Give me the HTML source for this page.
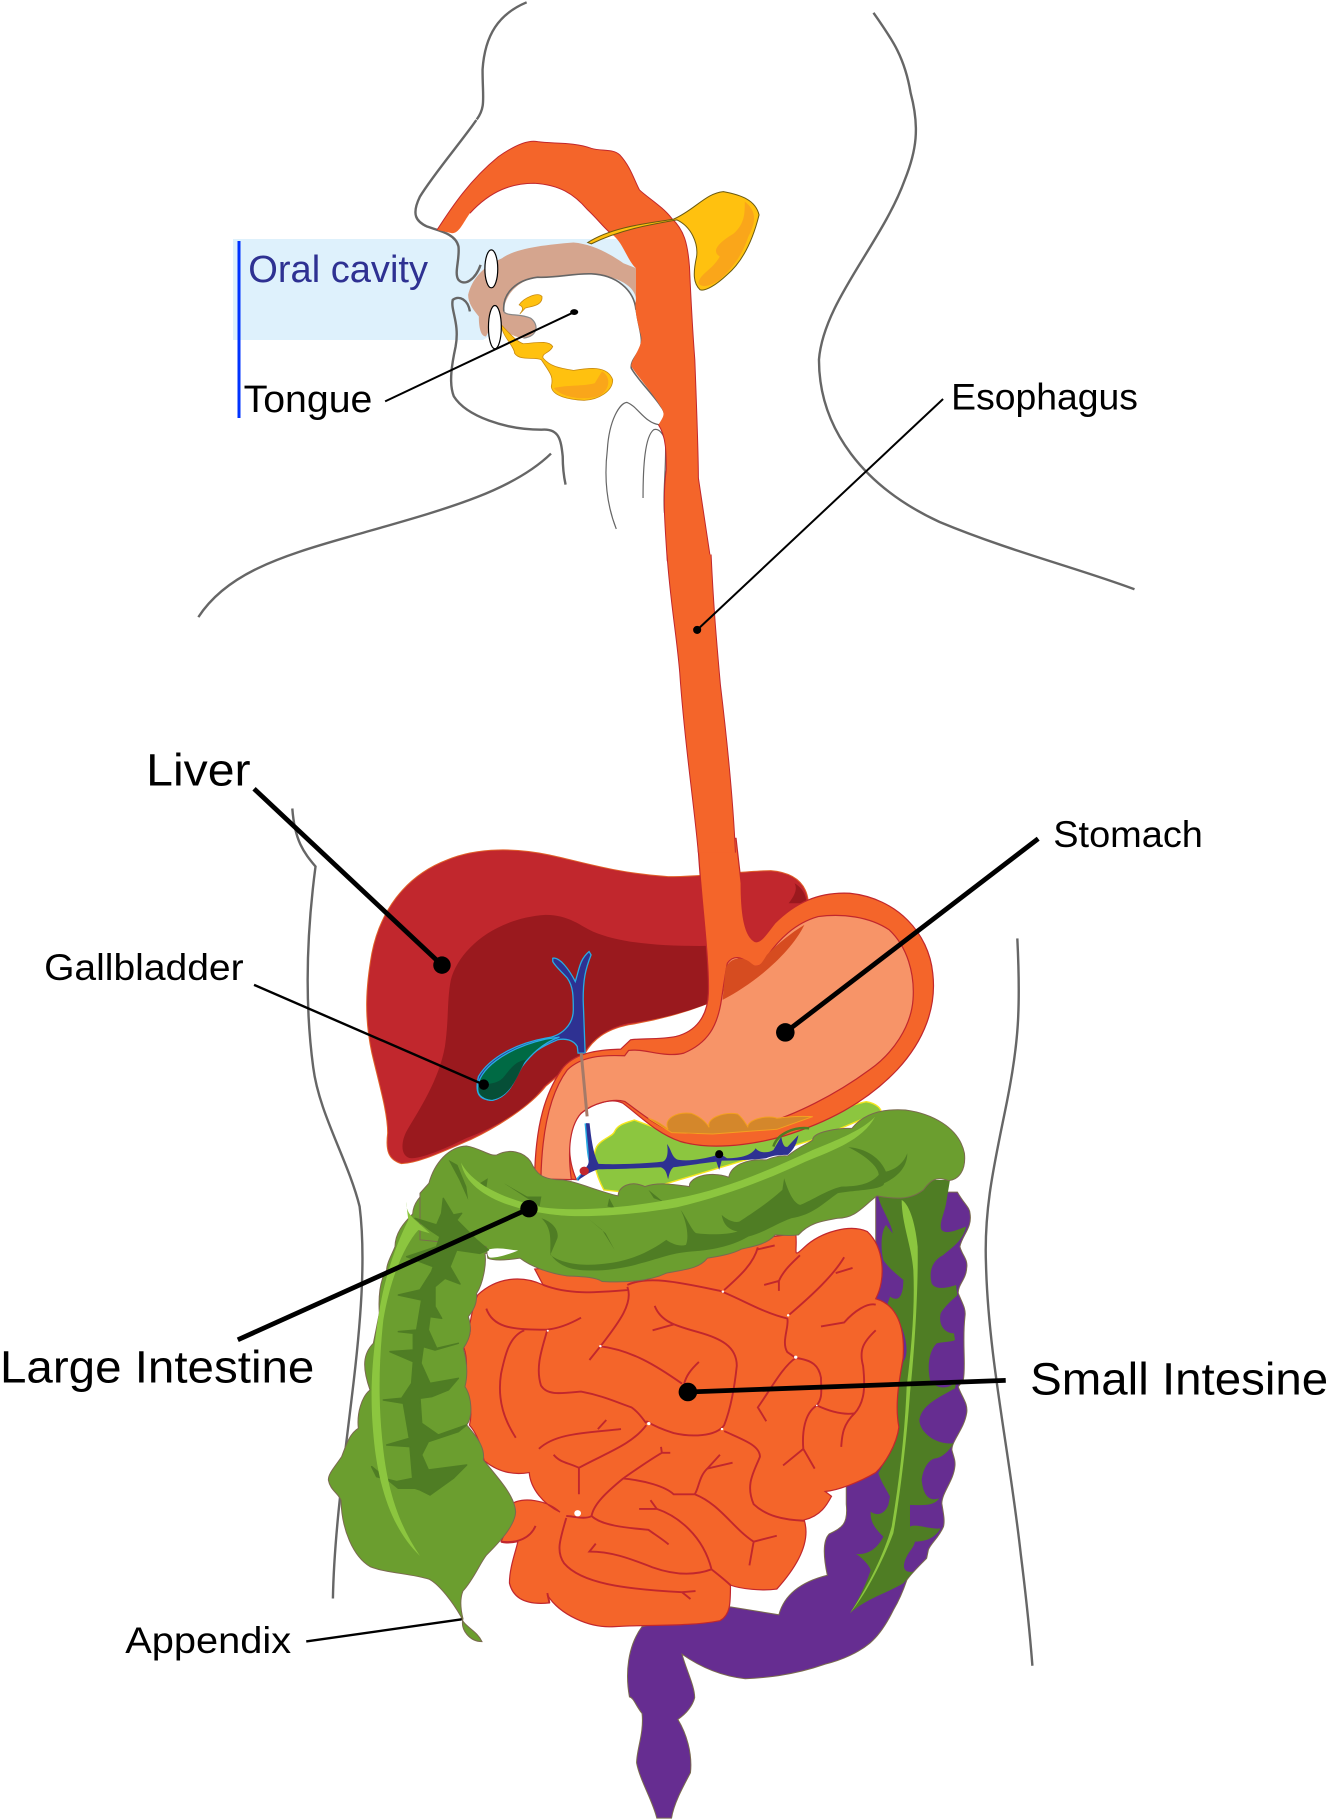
<!DOCTYPE html>
<html><head><meta charset="utf-8"><style>
html,body{margin:0;padding:0;background:#fff}
svg{display:block}
svg *{vector-effect:non-scaling-stroke}
text{font-family:"Liberation Sans",sans-serif;fill:#000}
.b{fill:none;stroke:#666;stroke-width:2.4;stroke-linecap:butt}
.f{fill:none;stroke:#c1272d;stroke-width:1.9}
</style></head><body>
<svg width="1328" height="1819" viewBox="0 0 1328 1819" xmlns="http://www.w3.org/2000/svg">
<rect width="1328" height="1819" fill="#fff"/>
<!-- body outlines -->
<g transform="scale(1.16)">
<path class="b" d="M454,2C430,12 418,30 416,60C416,85 419,92 411,103"/>
<path class="b" d="M753,11C770,35 780,50 785,80C793,110 790,130 780,155C760,210 710,260 706,310C706,370 745,420 810,450C870,475 930,490 978,508"/>
<path class="b" d="M475,391C440,425 380,440 300,463C240,480 195,495 171,532"/>
<path class="b" d="M252,697C254,725 262,735 272,747C265,800 262,860 270,920C275,960 300,1000 310,1040C315,1080 312,1130 305,1190C298,1250 288,1320 287,1378"/>
<path class="b" d="M877,809C880,870 878,900 868,950C858,1000 848,1040 850,1090C852,1170 870,1250 880,1340C885,1380 888,1410 890,1436"/>
</g>
<!-- oral rect -->
<rect x="233" y="239" width="403" height="101" fill="#def1fc"/>
<rect x="237.500" y="241" width="3" height="177" fill="#0033ff"/>
<!-- head detail -->
<g transform="translate(220,120) scale(.357,.333)">
<path d="M795,570C790,520 830,480 890,472C940,475 990,460 1040,462C1110,465 1160,510 1165,570L1170,665L730,665L790,625Z" fill="#fff"/>
<path class="b" d="M718,0C680,60 600,160 560,230C535,285 550,305 580,320C610,332 660,340 668,380C672,420 655,460 668,480C685,500 715,480 730,435"/>
<path class="b" d="M700,575C695,540 670,525 652,540C645,570 672,610 660,680C650,730 640,790 655,830C690,890 800,930 900,930C950,925 955,960 960,1010C960,1050 965,1080 968,1095"/>
<path d="M1110,1228C1085,1160 1075,1080 1085,990C1090,900 1120,850 1140,848C1170,860 1190,910 1230,915" fill="none" stroke="#666" stroke-width="1.2"/>
<path d="M1185,1135C1185,1040 1190,950 1215,930C1230,925 1245,945 1248,970C1250,1050 1240,1120 1245,1180" fill="none" stroke="#666" stroke-width="1.2"/>
<path d="M695,525C705,480 735,440 790,415C830,385 910,375 990,368C1040,372 1090,400 1130,430L1165,445V535C1160,500 1120,470 1040,462C990,462 940,475 890,472C840,480 800,520 795,570C800,590 840,580 870,595C895,615 890,650 850,655C810,650 790,625 770,600L745,650C725,650 725,600 725,590C710,570 695,550 695,525Z" fill="#d5a58e"/>
<path d="M795,575C790,520 830,480 890,472C940,475 990,460 1040,462C1110,465 1160,510 1165,570" fill="none" stroke="#666" stroke-width="1.6"/>
<path d="M795,575C800,590 840,580 870,595C895,615 890,650 850,655" fill="none" stroke="#888" stroke-width="1.2"/>
<path d="M1165,560C1170,620 1190,660 1175,690C1165,710 1150,725 1152,745C1170,780 1210,820 1235,860C1250,880 1250,905 1230,915" fill="none" stroke="#666" stroke-width="1.6"/>
<path d="M608,330C650,260 700,180 780,110C820,80 860,58 890,65C930,72 990,65 1040,85C1070,95 1100,85 1120,105C1150,140 1160,180 1175,210C1200,235 1240,260 1265,295C1300,330 1310,370 1315,440C1320,560 1325,650 1330,720C1335,860 1340,1000 1340,1075L1375,1325H1253C1245,1200 1240,1130 1250,1050C1250,1000 1250,950 1228,915C1250,880 1245,880 1225,845C1200,805 1170,770 1152,740C1150,720 1185,680 1180,650C1170,610 1160,570 1165,540V445C1140,420 1130,370 1100,345C1080,330 1060,300 1030,270C990,220 950,195 880,190C820,190 760,210 700,280C680,310 670,340 650,340Z" fill="#f4652a"/>
<path d="M608,330C650,260 700,180 780,110C820,80 860,58 890,65C930,72 990,65 1040,85C1070,95 1100,85 1120,105C1150,140 1160,180 1175,210C1200,235 1240,260 1265,295C1300,330 1310,370 1315,440C1320,560 1325,650 1330,720C1335,860 1340,1000 1340,1075L1375,1325M1253,1325C1245,1200 1240,1130 1250,1050C1250,1000 1250,950 1228,915M700,280C760,210 820,190 880,190C950,195 990,220 1030,270C1060,300 1080,330 1100,345" fill="none" stroke="#c1272d" stroke-width="1"/>
<path d="M1030,368C1100,320 1200,310 1270,298C1330,270 1360,220 1410,215C1460,225 1500,240 1510,285C1495,350 1470,420 1420,465C1390,495 1360,515 1345,510C1325,490 1325,460 1335,410C1340,370 1320,320 1280,300C1200,315 1120,330 1040,372Z" fill="#ffc10f" stroke="#6b5a10" stroke-width="1"/>
<path d="M1470,245C1500,270 1505,300 1480,350C1465,400 1440,440 1400,480C1370,500 1350,505 1340,490C1345,460 1380,450 1400,410C1370,390 1410,360 1440,340C1470,310 1470,280 1470,245Z" fill="#faa61a"/>
<path d="M840,582C850,570 850,560 838,555C850,535 890,515 902,530C905,560 865,560 855,565Z" fill="#ffc10f" stroke="#c98a10" stroke-width=".8"/>
<path d="M788,615C810,640 830,665 850,672C880,670 920,660 932,680C925,700 900,700 905,715C925,740 950,745 990,752C1030,745 1085,735 1100,780C1100,815 1060,840 1020,842C980,840 930,830 928,800C935,770 925,760 900,720C880,710 840,725 825,700C825,680 790,650 788,615Z" fill="#ffc10f" stroke="#c98a10" stroke-width=".8"/>
<path d="M1070,755C1095,770 1095,810 1060,830C1020,842 960,835 935,805C970,795 1020,800 1050,790Z" fill="#faa61a"/>
<ellipse cx="760" cy="447" rx="18" ry="57" fill="#fff" stroke="#000" stroke-width="1.2"/>
<ellipse cx="770" cy="622" rx="18" ry="65" fill="#fff" stroke="#000" stroke-width="1.2"/>
</g>
<!-- liver and stomach -->
<g transform="translate(360,840) scale(.395,.333)">
<path d="M105,972C70,960 65,930 70,880C70,820 50,740 30,640C10,530 15,440 30,340C50,220 110,110 220,60C300,20 400,25 480,45C560,65 650,100 780,110C880,110 980,92 1040,92C1100,98 1130,130 1135,185L1040,330L920,470C850,510 760,540 680,555C620,570 590,600 570,640L470,740C430,800 350,860 280,900C210,935 150,970 105,972Z" fill="#c1272d" stroke="#e0602a" stroke-width="1"/>
<path d="M125,955C100,945 105,900 120,870C150,810 200,720 215,620C225,540 220,480 230,420C250,330 340,235 470,225C530,225 560,260 590,275C660,310 760,320 890,318L1100,300L915,475C850,510 760,540 680,550C620,565 590,600 565,640L465,740C430,800 350,860 270,895C210,930 150,960 125,955Z" fill="#9a191e"/>
<path d="M1100,130C1110,150 1095,175 1085,190L1130,190C1130,160 1115,140 1100,130Z" fill="#9a191e"/>
<path d="M1000,305C1030,300 1060,260 1100,240L1040,330Z" fill="#9a191e"/>
<path d="M488,355C505,350 530,390 545,425C555,390 555,360 580,335L585,345C570,390 565,420 565,480L570,640L552,640L550,620C540,600 520,595 500,600C460,620 430,640 410,680C390,720 380,770 335,782C300,780 290,760 300,710C330,650 400,610 470,595C510,590 540,555 540,510C540,470 540,440 525,415C510,395 495,380 488,365Z" fill="#2e3192" stroke="#29abe2" stroke-width="1.3"/>
<path d="M298,750C295,690 370,625 470,598L505,592C460,610 430,650 410,680C390,720 380,770 335,782C315,780 298,770 298,750Z" fill="#006a44" stroke="#29abe2" stroke-width="1.3"/>
<path d="M300,740C320,730 350,735 365,710C385,680 395,665 420,660C400,700 385,770 335,780C315,780 298,765 300,740Z" fill="#064f37"/>
</g>
<!-- pancreas (under stomach) -->
<g transform="translate(420,1090) scale(.357,.333)">
<path d="M515,300C490,250 480,200 495,170C510,145 540,140 545,125C555,100 590,95 600,90L700,130L1000,120C1080,100 1180,50 1250,35C1280,40 1295,60 1290,65L1100,150L600,310Z" fill="#8cc63f" stroke="#f5e61e" stroke-width="1.4"/>
</g>
<!-- stomach -->
<g transform="translate(360,840) scale(.395,.333)">
<path d="M855,-5C860,150 885,350 882,460C880,530 850,575 800,590C760,600 710,595 685,600L660,628C600,630 540,640 510,690C470,760 445,850 442,1010L548,1020C525,960 525,880 545,840C570,800 630,770 665,790C710,830 750,880 810,905C880,930 980,920 1070,890C1180,850 1280,790 1360,690C1430,600 1460,500 1450,400C1440,280 1360,175 1240,160C1160,155 1100,190 1050,250C1030,280 1015,310 1000,305C975,290 965,230 965,130L952,-5Z" fill="#f4652a" stroke="#c1272d" stroke-width="1.2"/>
<path d="M458,1018C460,900 475,770 525,690C560,650 610,645 670,648L680,632C720,625 770,655 820,640C880,610 905,560 915,480C920,440 925,400 930,370C945,345 965,350 985,370C1000,385 1015,385 1030,350C1060,300 1100,250 1160,230C1220,220 1290,230 1340,270C1385,320 1405,400 1400,480C1395,560 1350,640 1290,690C1210,760 1100,830 1000,860C930,880 830,890 780,870C740,850 700,810 670,785C640,775 590,790 560,820C530,860 525,930 535,1020Z" fill="#f79468" stroke="#c1272d" stroke-width="1.2"/>
<path d="M925,390C930,360 960,345 985,365C1005,385 1010,385 1030,345C1060,310 1090,280 1125,255C1090,340 1000,430 918,480Z" fill="#d64c20"/>
<path d="M560,640L575,830" fill="none" stroke="#a57a68" stroke-width="3"/>
</g>
<!-- esophagus mid -->
<g transform="scale(1.16)">
<path d="M575,478C578,520 583,545 586,580C590,640 598,690 602,735H634C632,690 627,640 621,590C617,545 615,520 613,478Z" fill="#f4652a"/>
<path d="M575,478C578,520 583,545 586,580C590,640 598,690 602,735M634,735C632,690 627,640 621,590C617,545 615,520 613,478" fill="none" stroke="#c1272d" stroke-width="1"/>
</g>
<g transform="translate(420,1090) scale(.357,.333)">
<path d="M640,85C660,90 680,105 695,118C680,85 720,65 760,70C785,80 800,95 810,112C800,85 850,65 890,72C905,85 912,100 918,110C920,85 980,75 1000,85C1030,80 1070,78 1100,80L1000,118L820,132L705,128Z" fill="#d4872b" stroke="#f5a020" stroke-width="1"/>
<path d="M465,100C470,150 470,200 480,225L440,270" fill="none" stroke="#29abe2" stroke-width="3"/>
<path d="M440,272L470,225C478,210 468,150 465,100L475,100C480,150 485,190 500,222C560,225 640,220 680,215C695,210 695,180 692,162C705,180 705,205 725,210C760,215 800,205 825,198L838,190L860,205C900,205 930,195 940,175C950,190 975,190 990,180L1012,140C1015,160 1020,175 1030,170L1060,135C1055,165 1045,180 1030,195C1000,195 985,198 970,205C930,210 880,212 845,212L838,240L830,215C790,220 740,228 710,232C700,240 698,255 695,268C690,250 690,240 675,232C620,235 550,238 500,238C475,245 460,260 440,272Z" fill="#2e3192"/>
<circle cx="460" cy="243" r="13" fill="#c1272d"/>
</g>
<!-- purple colon -->
<g transform="translate(320,1200) scale(.421,.395)">
<path d="M1320,-20H1514C1530,10 1544,20 1544,34C1550,70 1525,90 1520,118C1525,140 1540,150 1536,173C1535,200 1515,215 1516,236C1525,260 1535,275 1532,295C1525,360 1535,420 1528,456L1516,473C1525,500 1540,515 1536,540C1530,580 1500,610 1501,633C1505,650 1510,660 1508,675C1505,710 1478,740 1477,768C1480,790 1485,810 1481,827C1470,855 1450,870 1445,886L1441,907C1420,930 1405,945 1394,962C1385,990 1375,1015 1362,1038C1345,1075 1325,1105 1306,1122C1280,1145 1240,1165 1200,1175C1120,1205 1050,1210 1010,1212C950,1205 900,1180 860,1150C870,1190 890,1230 890,1260C885,1280 870,1300 850,1315C870,1350 885,1400 880,1450C860,1490 840,1530 835,1565H800C790,1520 760,1470 752,1425C752,1390 770,1350 765,1300C750,1280 745,1260 735,1258C725,1200 730,1130 765,1080L975,1030L1090,1050C1100,1010 1130,970 1205,950C1195,900 1195,860 1210,845C1240,830 1255,820 1250,770V720L1320,690Z" fill="#662d91" stroke="#7a6a4f" stroke-width="1"/>
</g>
<g transform="translate(850,1180) scale(.3333)">
<path d="M85,50C90,80 125,130 128,160L108,135C95,150 90,200 100,240C120,270 150,290 160,300C160,340 150,370 120,350L110,380L150,430C165,460 180,520 160,545L140,650L130,800L85,880C95,910 110,930 120,950L115,975C100,1010 75,1005 62,995C60,1030 80,1050 100,1070C80,1110 50,1125 18,1122C40,1135 60,1160 62,1170C50,1210 20,1270 0,1300C50,1255 100,1245 160,1210L190,1175C160,1180 155,1160 170,1130C180,1110 190,1105 195,1085C240,1085 260,1065 272,1045C240,1050 200,1030 180,1040L180,975C220,975 250,980 268,955C240,965 220,950 215,900C220,860 240,835 260,835C280,830 300,810 310,790C260,795 210,760 208,720C215,680 250,660 315,625L320,600C300,630 260,630 240,600C230,550 240,510 260,490C285,485 310,485 315,480L312,460C280,460 265,430 272,400C290,370 320,350 322,345L318,315C290,325 255,330 245,310C235,270 250,240 280,225C310,200 340,180 348,140C320,150 290,165 275,150C265,130 285,100 290,60L300,0H80Z" fill="#4f7d24"/>
</g>
<!-- small intestine -->
<g transform="translate(320,1200) scale(.421,.395)">
<path d="M375,240C420,195 480,190 530,215L510,175L1130,85C1135,130 1120,150 1150,120C1190,80 1260,60 1300,80C1340,120 1345,200 1320,250C1370,265 1390,320 1385,400C1375,460 1365,520 1375,575C1370,620 1340,670 1320,690C1280,715 1230,735 1200,738L1215,750C1205,770 1190,800 1150,810C1165,860 1140,920 1085,985C1050,990 1000,985 975,975C975,1020 975,1050 950,1065C880,1080 780,1075 700,1080C640,1085 570,1050 540,1000L545,1020C500,1025 460,1015 450,970C450,930 465,890 470,865C450,870 430,868 430,865C450,820 455,790 455,770C480,750 540,760 570,790C530,770 500,730 497,690C470,695 430,695 390,660C385,640 380,600 355,570C365,530 350,490 340,465C355,420 345,380 340,370C365,340 355,310 355,320C360,290 365,260 375,240Z" fill="#f4652a" stroke="#c1272d" stroke-width="1.2"/>
<path class="f" d="M395,275C410,320 450,330 540,328C570,325 600,310 620,298M540,328C530,370 510,420 525,470C540,495 570,490 620,485C670,495 700,510 740,525C760,540 770,560 775,565M485,330C450,345 440,390 430,440C420,510 440,560 465,602M730,220C745,260 710,310 670,365L640,405M730,228C650,235 590,240 530,215M665,370C740,380 800,420 860,465M900,410C880,430 870,445 865,465M795,268C810,310 850,320 900,335C950,350 990,370 990,420C985,470 975,530 960,570C940,600 880,600 840,590C810,580 790,570 775,560M790,330L840,315M730,215C780,190 860,210 950,230C1000,250 1050,285 1110,300C1115,320 1095,360 1110,385L1130,400C1170,405 1185,420 1190,450C1190,480 1195,500 1180,520M1130,400C1100,420 1070,480 1040,525L1060,560M960,228C1000,190 1030,160 1040,120M1040,125L1080,115M1115,290C1170,240 1220,190 1245,145M1090,205V230M1055,215L1090,205C1100,180 1120,160 1140,140M1225,185L1265,172M1190,320L1245,310C1270,280 1300,260 1320,265M1320,330C1290,360 1280,380 1290,420C1295,470 1295,510 1270,540C1240,570 1240,600 1238,625M1180,520C1210,535 1240,545 1270,540M1180,520C1150,540 1145,590 1148,630L1175,680M1148,630L1100,672M960,585C1000,605 1045,620 1045,650C1030,690 1010,720 1030,770C1060,800 1100,810 1150,812M520,630C560,590 630,590 715,580M660,580L680,557M555,645C570,665 590,665 615,678V745M615,678C680,640 740,620 775,570M810,625L812,640H832M812,640C780,660 740,690 720,705M980,665L920,680C900,700 900,730 890,745M920,680L950,645M720,705C770,710 820,725 840,745H890C950,770 980,830 1030,865L1085,850M1030,865L1020,925M720,705C680,740 650,770 645,800C670,825 730,830 780,835C800,850 815,860 828,872M758,782H800L785,760M800,782C850,800 910,850 930,935C880,955 830,945 790,930C730,905 690,890 640,890L655,870M585,805C570,860 560,890 580,920C620,970 720,985 860,993L892,990M860,993L880,1010M930,935C960,960 975,975 975,975M585,800C600,800 630,810 645,800M430,865C470,870 500,855 512,825M540,995L545,1020"/>
<g fill="#fff"><circle cx="541" cy="331" r="2.500"/><circle cx="666" cy="370" r="3"/><circle cx="781" cy="566" r="4"/><circle cx="955" cy="580" r="3"/><circle cx="1130" cy="398" r="4"/><circle cx="1180" cy="520" r="2"/><circle cx="1112" cy="292" r="3"/><circle cx="612" cy="793" r="8"/><circle cx="957" cy="232" r="3"/></g>
</g>
<g transform="translate(850,1180) scale(.3333)">
<path d="M155,60C175,70 195,120 203,200C205,320 195,500 180,640C170,780 150,950 130,1060C100,1140 50,1240 0,1300C50,1225 100,1130 125,1040C150,890 165,750 170,620C185,500 195,380 190,270C185,200 155,130 155,60Z" fill="#8cc63f"/>
</g>
<!-- ascending colon -->
<g transform="translate(320,1140) scale(.3333)">
<path d="M378,50C340,90 325,120 328,150C300,165 280,190 278,222C250,250 225,280 225,320C215,345 200,370 200,390C180,420 175,470 178,520L160,610C130,640 125,680 150,750C125,770 110,820 115,865C90,880 80,910 65,950C45,980 25,1000 25,1020C30,1050 55,1060 63,1081C65,1170 100,1250 150,1280C200,1300 270,1300 328,1318C360,1335 400,1390 423,1430C430,1460 470,1470 486,1505C450,1505 420,1470 429,1436C420,1400 420,1375 429,1353C460,1320 480,1270 499,1246C530,1215 585,1160 587,1116C585,1070 540,1020 490,960C495,930 480,900 440,855C460,830 455,770 435,740C445,700 440,660 430,625C455,590 455,560 445,530C470,500 470,480 470,460C490,430 500,370 495,340L560,340L560,50Z" fill="#6b9e2f" stroke="#7a6a4f" stroke-width="1"/>
</g>
<!-- transverse colon -->
<g transform="translate(420,1090) scale(.357,.333)">
<path d="M25,280C40,220 80,170 130,168C170,175 195,200 215,195C250,175 290,185 310,215C325,250 340,270 400,270C440,275 500,305 555,318C555,290 590,270 630,290C670,275 720,285 755,290C750,265 810,240 865,262C870,230 910,205 970,210C980,205 1010,195 1030,198C1060,170 1090,160 1100,150C1100,125 1170,115 1210,115C1240,75 1290,55 1360,60C1430,70 1510,110 1525,190C1530,240 1510,270 1480,272C1440,255 1425,280 1410,300C1370,335 1320,325 1280,318C1240,350 1220,385 1170,385C1120,395 1090,400 1060,435C1030,440 1010,435 995,435C970,465 930,470 900,478C870,495 830,500 805,505C780,540 730,540 690,550C650,570 590,580 510,575C490,560 440,560 410,558C360,550 310,530 280,505C250,510 210,515 190,505L185,470L0,450V310Z" fill="#6b9e2f" stroke="#7a6a4f" stroke-width="1"/>
<path d="M190,480C215,470 250,480 275,482C245,495 215,505 195,503C188,497 188,488 190,480Z" fill="#fff"/>
<path d="M990,170C1000,130 1050,110 1090,115" fill="none" stroke="#4f7d24" stroke-width="2.500"/>
<path d="M340,385C370,395 390,420 385,445L365,495C400,525 470,530 530,520C600,510 650,480 690,450C710,465 730,470 745,465C755,440 745,390 730,360C745,380 765,430 775,430C810,435 860,435 890,425C865,420 850,405 845,375C860,390 880,400 895,395C930,370 980,335 1015,300L1020,265C1030,300 1045,340 1065,345C1100,330 1140,300 1180,290C1220,290 1260,285 1285,255C1285,235 1255,200 1200,172C1250,175 1290,205 1305,245C1330,240 1355,220 1365,190C1365,230 1340,260 1300,280C1300,300 1220,300 1170,310C1130,340 1100,375 1040,385C1000,400 960,430 920,440C880,465 830,480 760,485C700,490 660,510 620,520C560,540 470,550 420,535C390,525 370,505 365,490C365,450 370,415 340,385Z" fill="#4f7d24"/>
<path d="M80,210L105,225L130,290L135,330L110,270ZM190,265L160,285L185,300ZM235,280L300,320L340,320L335,350ZM470,385L520,430L545,480L510,420ZM530,325L545,355L525,350ZM640,300L680,335L655,325Z" fill="#4f7d24"/>
<path d="M115,218C150,290 250,330 340,352C450,368 600,350 720,325C850,300 980,240 1100,180C1170,150 1240,120 1275,80C1240,150 1160,180 1080,215C970,270 850,320 720,352C600,375 460,385 380,375C250,360 130,310 115,218Z" fill="#8cc63f"/>
</g>
<!-- ascending spine and stripe -->
<g transform="translate(320,1140) scale(.3333)">
<path d="M370,175L400,225L425,220L410,240L470,300L505,330L480,340L410,330L390,380L420,432L375,415L345,440L345,500L365,535L330,530L325,570L350,625L415,610L345,630L310,620L303,670L330,730L415,715L385,750L335,770L300,775L305,850L355,885L440,855L415,875L325,905L305,945L325,990L440,975L400,1015L330,1065L300,1050L285,1045L235,1045L155,980L170,1010L230,1025L278,1015L270,920L200,915L268,895L250,790L190,780L245,775L275,730L280,665L210,635L280,630L280,580L235,575L290,570L305,480L235,465L300,450L335,395L340,380L260,350L350,320L360,290L330,270L285,235L350,255L365,220Z" fill="#4f7d24" stroke="#4f7d24" stroke-width="1.500" stroke-linejoin="round"/>
<path d="M258,185L265,240C220,330 190,430 175,530C150,700 150,800 165,930C185,1080 230,1180 300,1248C240,1160 205,1060 190,930C175,800 175,680 190,540C210,420 250,320 295,270L330,280L280,235C265,220 258,205 258,185Z" fill="#8cc63f"/>
</g>
<!-- leaders and labels -->
<g transform="scale(1.16)">
<path d="M332,346L495,269" stroke="#000" stroke-width="2" fill="none"/><ellipse cx="495" cy="269" rx="3.500" ry="2.500"/>
<path d="M813,344L601,543" stroke="#000" stroke-width="2" fill="none"/><circle cx="601" cy="543" r="3.500"/>
<path d="M219,680L381,832" stroke="#000" stroke-width="4.800" fill="none"/><circle cx="381" cy="832" r="7.500"/>
<path d="M895,723L677,890" stroke="#000" stroke-width="4.800" fill="none"/><circle cx="677" cy="890" r="8"/>
<path d="M219,849L417,935" stroke="#000" stroke-width="2.400" fill="none"/><circle cx="417" cy="935" r="4.500"/>
<circle cx="620" cy="995" r="3.500"/>
<path d="M205,1155L456,1042" stroke="#000" stroke-width="4.800" fill="none"/><circle cx="456" cy="1042" r="7.500"/>
<path d="M867,1190L593,1200" stroke="#000" stroke-width="4.800" fill="none"/><circle cx="593" cy="1200" r="8"/>
<path d="M264,1415L398,1396" stroke="#000" stroke-width="2.400" fill="none"/>
<text x="214" y="243" font-size="33" textLength="155" lengthAdjust="spacingAndGlyphs" style="fill:#2e3192">Oral cavity</text>
<text x="210" y="355" font-size="33" textLength="111" lengthAdjust="spacingAndGlyphs">Tongue</text>
<text x="820" y="353" font-size="32" textLength="161" lengthAdjust="spacingAndGlyphs">Esophagus</text>
<text x="126" y="677" font-size="39" textLength="90" lengthAdjust="spacingAndGlyphs">Liver</text>
<text x="908" y="730" font-size="32" textLength="129" lengthAdjust="spacingAndGlyphs">Stomach</text>
<text x="38" y="845" font-size="32" textLength="172" lengthAdjust="spacingAndGlyphs">Gallbladder</text>
<text x="0" y="1192" font-size="39" textLength="271" lengthAdjust="spacingAndGlyphs">Large Intestine</text>
<text x="888" y="1202" font-size="39" textLength="257" lengthAdjust="spacingAndGlyphs">Small Intesine</text>
<text x="108" y="1425" font-size="32" textLength="143" lengthAdjust="spacingAndGlyphs">Appendix</text>
</g>
</svg>
</body></html>
